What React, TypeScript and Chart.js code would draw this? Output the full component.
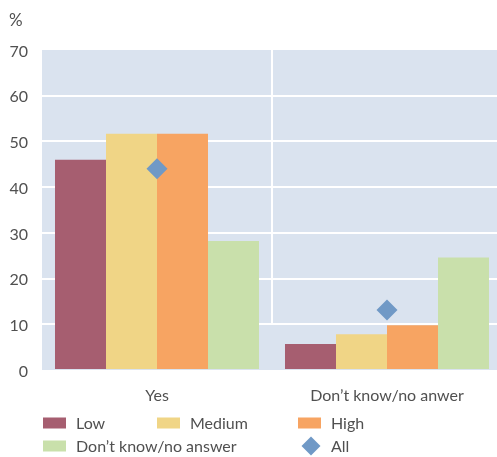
import React, { useEffect, useRef } from 'react';
import { Chart, registerables } from 'chart.js';

Chart.register(...registerables);

const categories = ['Yes', 'Don’t know/no anwer'];
const lowValues = [46, 5.7];
const mediumValues = [51.7, 7.8];
const highValues = [51.7, 9.8];
const dkValues = [28.2, 24.6];
const allValues = [44, 13.1];
const seriesLabels = ['Low', 'Medium', 'High', 'Don’t know/no answer', 'All'];
const yMin = 0;
const yMax = 70;
const yStep = 10;
const separatorEnd = 10;
const unitLabel = '%';

const COLORS = ['#a65e70', '#f0d586', '#f7a462', '#c9e0ab', '#7099c6'];
const BG = '#dae3ef';
const TEXT = '#505050';
const FONT = 'Lato, "Open Sans", sans-serif';

const legendSlots = [
  { x: 43, y: 423 },
  { x: 157, y: 423 },
  { x: 298, y: 423 },
  { x: 43, y: 446 },
  { x: 298, y: 446 },
];

const decorPlugin = {
  id: 'decor',
  beforeDraw(chart: any) {
    const { ctx, chartArea: a } = chart;
    ctx.save();
    ctx.fillStyle = BG;
    ctx.fillRect(a.left, a.top, a.right - a.left, a.bottom - a.top);
    ctx.restore();
  },
  beforeDatasetsDraw(chart: any) {
    const { ctx, chartArea: a, scales } = chart;
    const xs = scales.x;
    const ys = scales.y;
    const x = (xs.getPixelForValue(0) + xs.getPixelForValue(1)) / 2;
    ctx.save();
    ctx.strokeStyle = '#ffffff';
    ctx.lineWidth = 2;
    ctx.beginPath();
    ctx.moveTo(x, a.top);
    ctx.lineTo(x, ys.getPixelForValue(separatorEnd));
    ctx.stroke();
    ctx.restore();
  },
  afterDraw(chart: any) {
    const { ctx } = chart;
    ctx.save();
    ctx.fillStyle = TEXT;
    ctx.textBaseline = 'middle';
    ctx.textAlign = 'left';
    ctx.font = `17px ${FONT}`;
    ctx.fillText(unitLabel, 9, 21);
    ctx.font = `16px ${FONT}`;
    chart.data.datasets.forEach((ds: any, i: number) => {
      const s = legendSlots[i];
      ctx.fillStyle = ds.backgroundColor;
      if (ds.type === 'line') {
        const cx = s.x + 13;
        const r = 9.5;
        ctx.beginPath();
        ctx.moveTo(cx, s.y - r);
        ctx.lineTo(cx + r, s.y);
        ctx.lineTo(cx, s.y + r);
        ctx.lineTo(cx - r, s.y);
        ctx.closePath();
        ctx.fill();
      } else {
        ctx.fillRect(s.x, s.y - 5.5, 23, 11);
      }
      ctx.fillStyle = TEXT;
      ctx.fillText(ds.label, s.x + 33, s.y + 1);
    });
    ctx.restore();
  },
};

export default function App() {
  const ref = useRef<HTMLCanvasElement | null>(null);
  useEffect(() => {
    if (!ref.current) return;
    const barDs = (label: string, data: number[], color: string) => ({
      type: 'bar' as const,
      label,
      data,
      backgroundColor: color,
      borderWidth: 0,
      categoryPercentage: 0.887,
      barPercentage: 1,
      order: 1,
    });
    const chart = new Chart(ref.current, {
      type: 'bar',
      data: {
        labels: categories,
        datasets: [
          barDs(seriesLabels[0], lowValues, COLORS[0]),
          barDs(seriesLabels[1], mediumValues, COLORS[1]),
          barDs(seriesLabels[2], highValues, COLORS[2]),
          barDs(seriesLabels[3], dkValues, COLORS[3]),
          {
            type: 'line' as const,
            label: seriesLabels[4],
            data: allValues,
            backgroundColor: COLORS[4],
            borderColor: COLORS[4],
            showLine: false,
            pointStyle: 'rectRot',
            pointRadius: 10.5,
            pointHoverRadius: 10.5,
            pointBorderWidth: 0,
            order: 0,
          } as any,
        ],
      },
      options: {
        responsive: false,
        animation: false,
        layout: { autoPadding: false, padding: { top: 50, left: 0, right: 0, bottom: 0 } },
        plugins: {
          legend: { display: false },
          tooltip: { enabled: false },
        },
        scales: {
          x: {
            offset: true,
            grid: { display: false },
            border: { display: false },
            ticks: { color: TEXT, font: { family: FONT, size: 16 }, padding: 8, maxRotation: 0 },
            afterFit: (s: any) => {
              s.height = 87;
              s.paddingLeft = 0;
              s.paddingRight = 0;
            },
          },
          y: {
            min: yMin,
            max: yMax,
            grid: {
              color: (c: any) =>
                c.tick && (c.tick.value === yMin || c.tick.value === yMax) ? 'rgba(0,0,0,0)' : '#ffffff',
              lineWidth: 2,
              drawTicks: false,
            },
            border: { display: false },
            ticks: { stepSize: yStep, color: TEXT, font: { family: FONT, size: 16 }, padding: 14, labelOffset: 1.5 },
            afterFit: (s: any) => {
              s.width = 42;
            },
          },
        },
      },
      plugins: [decorPlugin],
    });
    return () => chart.destroy();
  }, []);
  return (
    <div style={{ position: 'absolute', left: 0, top: 0, width: 497, height: 457, overflow: 'hidden', background: '#fff' }}>
      <canvas ref={ref} width={502} height={457} style={{ display: 'block' }} />
    </div>
  );
}
